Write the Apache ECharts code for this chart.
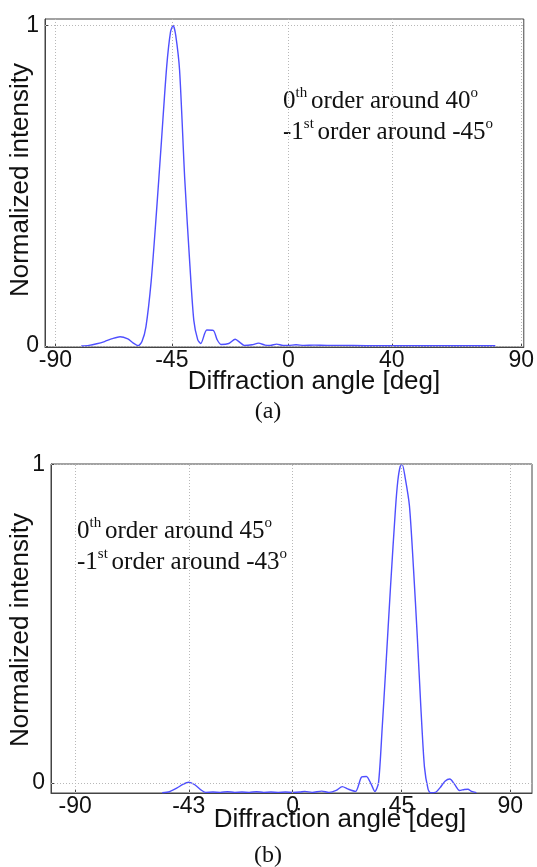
<!DOCTYPE html>
<html><head><meta charset="utf-8">
<script src="https://cdn.jsdelivr.net/npm/echarts@6/dist/echarts.min.js"></script>
<style>html,body{margin:0;padding:0;background:#fff}#c{width:537px;height:867px}</style>
</head><body><div id="c"></div>
<script>
// ---- Data (a) ----
const anglesA = [-80,-77,-74,-71,-68,-65,-62,-60,-58,-56.5,-55,-53,-51,-49,-47,-45.5,-44.5,-43.5,-42,-40,-38,-36.5,-35,-33.8,-31.5,-29,-27.5,-26,-23,-20.5,-18.5,-17,-14,-11.5,-9,-7,-4.5,-2,0,3,6,10,15,20,30,40,50,60,70,80];
const intensityA = [0,0.002,0.007,0.014,0.023,0.029,0.022,0.010,0.001,0.015,0.06,0.20,0.41,0.64,0.87,0.98,1.0,0.97,0.86,0.52,0.25,0.08,0.02,0.008,0.05,0.049,0.02,0.005,0.008,0.021,0.01,0.002,0.004,0.009,0.003,0.002,0.006,0.002,0.002,0.004,0.002,0.003,0.002,0.002,0.001,0.001,0.001,0.001,0.001,0.001];
// ---- Data (b) ----
const anglesB = [-54,-51,-48,-45.5,-43,-40.5,-38,-36,-33,-30,-27,-24,-21,-18,-15,-12,-9,-6,-3,0,3,5,8,12,15,18,20.5,23,26,28.5,30.5,32.5,34,35.5,37,38.5,40.5,42.5,43.5,44.5,45.3,46.5,48.3,50,51.5,53,54.5,56,57,59,61,63,65,67,69,71,72.5,74,76];
const intensityB = [-0.031,-0.028,-0.017,-0.005,0.002,-0.006,-0.022,-0.030,-0.029,-0.030,-0.028,-0.030,-0.029,-0.030,-0.028,-0.030,-0.029,-0.030,-0.029,-0.030,-0.029,-0.027,-0.030,-0.026,-0.030,-0.024,-0.012,-0.020,-0.027,0.018,0.020,-0.005,-0.027,0.0,0.17,0.36,0.62,0.86,0.95,0.995,1.0,0.96,0.87,0.67,0.465,0.24,0.05,-0.02,-0.031,-0.030,-0.015,0.005,0.012,-0.005,-0.024,-0.021,-0.020,-0.027,-0.031];
// ---- Tick labels ----
const xTicksA = [-90,-45,0,40,90];
const xTicksB = [-90,-43,0,45,90];
const yTicks = [0,1];
const xTitle = 'Diffraction angle [deg]';
const yTitle = 'Normalized intensity';

const sans = 'Liberation Sans';
const serif = 'Liberation Serif';
const axisCol = '#444';
const curveCol = '#4f4fff';

function pairs(xs, ys){ return xs.map((x,i)=>[x, ys[i]]); }
function xAxisCfg(gi, min, max, ticks){
  return {gridIndex:gi, type:'value', min:min, max:max,
    axisLine:{show:true, onZero:false, lineStyle:{color:axisCol, width:1}},
    axisTick:{show:true, inside:true, length:4, customValues:ticks, lineStyle:{color:axisCol}},
    axisLabel:{customValues:ticks, fontSize:23, fontFamily:sans, color:'#111', margin:2},
    splitLine:{show:false}};
}
function yAxisCfg(gi, min, max){
  return {gridIndex:gi, type:'value', min:min, max:max,
    axisLine:{show:true, onZero:false, lineStyle:{color:axisCol, width:1}},
    axisTick:{show:true, inside:true, length:4, customValues:yTicks, lineStyle:{color:axisCol}},
    axisLabel:{customValues:yTicks, fontSize:23, fontFamily:sans, color:'#111', margin:6},
    splitLine:{show:false}};
}
function gridLines(xt){
  return {silent:true, symbol:['none','none'], label:{show:false}, animation:false,
    lineStyle:{type:[1,2], color:'#b8b8b8', width:1},
    data: xt.map(v=>({xAxis:v})).concat(yTicks.map(v=>({yAxis:v})))};
}
const rich = {
  n:{fontFamily:serif, fontSize:25, lineHeight:31, fill:'#111'},
  s:{fontFamily:serif, fontSize:15, lineHeight:16, verticalAlign:'top', fill:'#111'}
};
const chart = echarts.init(document.getElementById('c'), null, {renderer:'canvas'});
chart.setOption({
  animation:false,
  backgroundColor:'#fff',
  grid:[
    {left:45, top:19, width:483, height:328, show:true, borderColor:axisCol, borderWidth:1, backgroundColor:'transparent'},
    {left:51, top:464, width:481, height:329, show:true, borderColor:axisCol, borderWidth:1, backgroundColor:'transparent'}
  ],
  xAxis:[xAxisCfg(0,-94,91,xTicksA), xAxisCfg(1,-100,99,xTicksB)],
  yAxis:[yAxisCfg(0,-0.003,1.02), yAxisCfg(1,-0.032,1.002)],
  series:[
    {type:'line', xAxisIndex:0, yAxisIndex:0, data:pairs(anglesA,intensityA), showSymbol:false, smooth:0.25,
     lineStyle:{color:curveCol, width:1.4}, markLine:gridLines(xTicksA), z:3},
    {type:'line', xAxisIndex:1, yAxisIndex:1, data:pairs(anglesB,intensityB), showSymbol:false, smooth:0.25,
     lineStyle:{color:curveCol, width:1.4}, markLine:gridLines(xTicksB), z:3}
  ],
  graphic:[
    {type:'text', x:314, y:382, style:{text:xTitle, font:'26px "Liberation Sans"', fill:'#111', align:'center', verticalAlign:'middle'}},
    {type:'text', x:340, y:820, style:{text:xTitle, font:'26px "Liberation Sans"', fill:'#111', align:'center', verticalAlign:'middle'}},
    {type:'text', x:21, y:180, rotation:Math.PI/2, style:{text:yTitle, font:'26px "Liberation Sans"', fill:'#111', align:'center', verticalAlign:'middle'}},
    {type:'text', x:21, y:630, rotation:Math.PI/2, style:{text:yTitle, font:'26px "Liberation Sans"', fill:'#111', align:'center', verticalAlign:'middle'}},
    {type:'text', x:268, y:412, style:{text:'(a)', font:'24px "Liberation Serif"', fill:'#111', align:'center', verticalAlign:'middle'}},
    {type:'text', x:268, y:856, style:{text:'(b)', font:'24px "Liberation Serif"', fill:'#111', align:'center', verticalAlign:'middle'}},
    {type:'text', x:283, y:86, style:{text:'{n|0}{s|th }{n|order around 40}{s|o}\n{n|-1}{s|st }{n|order around -45}{s|o}', rich:rich}},
    {type:'text', x:77, y:516, style:{text:'{n|0}{s|th }{n|order around 45}{s|o}\n{n|-1}{s|st }{n|order around -43}{s|o}', rich:rich}}
  ]
});
</script></body></html>
